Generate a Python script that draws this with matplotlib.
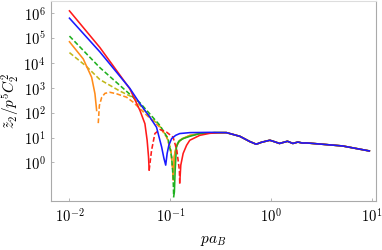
import numpy as np
import matplotlib
matplotlib.use("Agg")
from matplotlib import pyplot as plt

plt.rcParams['mathtext.fontset'] = 'cm'
plt.rcParams['font.family'] = 'DejaVu Serif'

# shared tail, all curves run together above pa_B ~ 0.35
tail_x = [0.36, 0.49, 0.61, 0.71, 0.805, 0.97, 1.08, 1.21, 1.45, 1.64, 1.84, 2.05, 2.23, 3.2, 5.1, 9.4]
tail_y = [15.8, 11.2, 7.0, 5.4, 6.5, 7.8, 6.8, 5.8, 7.1, 5.8, 6.6, 6.0, 6.1, 5.4, 4.6, 2.9]

# red
red_x1 = [0.01, 0.02, 0.0397, 0.050, 0.056, 0.0589, 0.0608, 0.0617]
red_y1 = [1.24e6, 4.2e4, 910, 123, 36, 7.8, 1.7, 0.49]
red_x2 = [0.0617, 0.0634, 0.0652, 0.0703, 0.0788, 0.0917, 0.1066, 0.116, 0.123, 0.124]
red_y2 = [0.49, 1.24, 3.1, 14.5, 21, 16.6, 10.3, 3.1, 0.49, 0.15]
red_x3 = [0.124, 0.127, 0.134, 0.145, 0.156, 0.196, 0.246, 0.30]
red_y3 = [0.15, 0.78, 2.3, 4.9, 7.8, 12.3, 14.8, 15.6]

# blue
blue_x = [0.01, 0.02, 0.0397, 0.050, 0.0627, 0.073, 0.082, 0.0863, 0.090,
          0.093, 0.0967, 0.103, 0.113, 0.124, 0.156, 0.246, 0.30]
blue_y = [6.3e5, 2.8e4, 950, 230, 66, 26, 4.2, 1.5, 0.78,
          2.3, 4.9, 9.1, 12.3, 14.5, 15.8, 16.2, 16.0]

# green
green_x1 = [0.01, 0.02, 0.0428, 0.050, 0.0788, 0.095, 0.103, 0.1066, 0.108]
green_y1 = [1.2e5, 6500, 420, 250, 31, 9.1, 1.66, 0.26, 0.042]
green_x2 = [0.108, 0.1097, 0.1117, 0.115, 0.121, 0.134, 0.156, 0.196, 0.275]
green_y2 = [0.042, 0.065, 0.49, 4.2, 7.0, 9.1, 11.2, 14.5, 15.8]

# orange
orange_x1 = [0.01, 0.0137, 0.0166, 0.0179, 0.0186]
orange_y1 = [7.1e4, 1.45e4, 2640, 575, 123]
orange_x2 = [0.0193, 0.0198, 0.0209, 0.0225, 0.0252, 0.0293, 0.0368, 0.0428, 0.050,
             0.0627, 0.0788, 0.092, 0.101, 0.106, 0.107]
orange_y2 = [38, 195, 420, 600, 660, 575, 420, 265, 145,
             60, 26, 10.3, 3.1, 0.49, 0.2]
orange_x3 = [0.107, 0.109, 0.115, 0.124, 0.156, 0.196, 0.275]
orange_y3 = [0.2, 1.66, 4.5, 7.8, 12.3, 14.5, 15.8]

# olive
olive_x1 = [0.01, 0.0146, 0.020, 0.0316, 0.0428, 0.050, 0.0627, 0.0788, 0.092, 0.101, 0.105, 0.1065]
olive_y1 = [2.6e4, 7500, 2150, 740, 410, 200, 70, 28, 11, 3.5, 0.7, 0.25]
olive_x2 = [0.1065, 0.108, 0.111, 0.117, 0.13, 0.156, 0.2, 0.275]
olive_y2 = [0.25, 0.5, 2.5, 5.5, 9, 12, 14.5, 15.8]

c_red = '#ff1a1a'
c_blue = '#1a1aff'
c_green = '#1fb01f'
c_orange = '#ff8c1a'
c_olive = '#c0b81a'

fig = plt.figure(figsize=(3.82, 2.5), dpi=100)
ax = fig.add_axes([0.1335, 0.196, 0.851, 0.80])

lw = 1.15
dash = (3, 1.5)

ax.plot(olive_x1, olive_y1, color=c_olive, lw=lw, dashes=dash)
ax.plot(olive_x2 + tail_x, olive_y2 + tail_y, color=c_olive, lw=lw)
ax.plot(orange_x1, orange_y1, color=c_orange, lw=lw)
ax.plot(orange_x2, orange_y2, color=c_orange, lw=lw, dashes=dash)
ax.plot(orange_x3 + tail_x, orange_y3 + tail_y, color=c_orange, lw=lw)
ax.plot(green_x1, green_y1, color=c_green, lw=lw, dashes=dash)
ax.plot(green_x2 + tail_x, green_y2 + tail_y, color=c_green, lw=lw)
ax.plot(red_x1, red_y1, color=c_red, lw=lw)
ax.plot(red_x2, red_y2, color=c_red, lw=lw, dashes=dash)
ax.plot(red_x3 + tail_x, red_y3 + tail_y, color=c_red, lw=lw)
ax.plot(blue_x + tail_x, blue_y + tail_y, color=c_blue, lw=lw)

ax.set_xscale('log')
ax.set_yscale('log')
ax.set_xlim(10**-2.183, 10**1.04)
ax.set_ylim(10**-1.55, 10**6.49)

ax.set_xticks([1e-2, 1e-1, 1, 10])
ax.set_xticklabels([r'$10^{-2}$', r'$10^{-1}$', r'$10^{0}$', r'$10^{1}$'])
ax.set_yticks([1, 10, 1e2, 1e3, 1e4, 1e5, 1e6])
ax.set_yticklabels([r'$10^{%d}$' % k for k in range(7)])
ax.minorticks_off()
ax.tick_params(direction='in', length=2.5, width=0.6, color='#aaaaaa', labelsize=10.5, pad=4)

for side in ['left', 'bottom', 'right']:
    ax.spines[side].set_color('#aaaaaa')
    ax.spines[side].set_linewidth(0.8)
ax.spines['top'].set_color('#dddddd')
ax.spines['top'].set_linewidth(0.8)

ax.set_xlabel(r'$pa_B$', fontsize=11, labelpad=7)
ax.set_ylabel(r'$\tilde{z}_2/p^5C_2^2$', fontsize=11, labelpad=1)

fig.savefig('out.png', dpi=100)
